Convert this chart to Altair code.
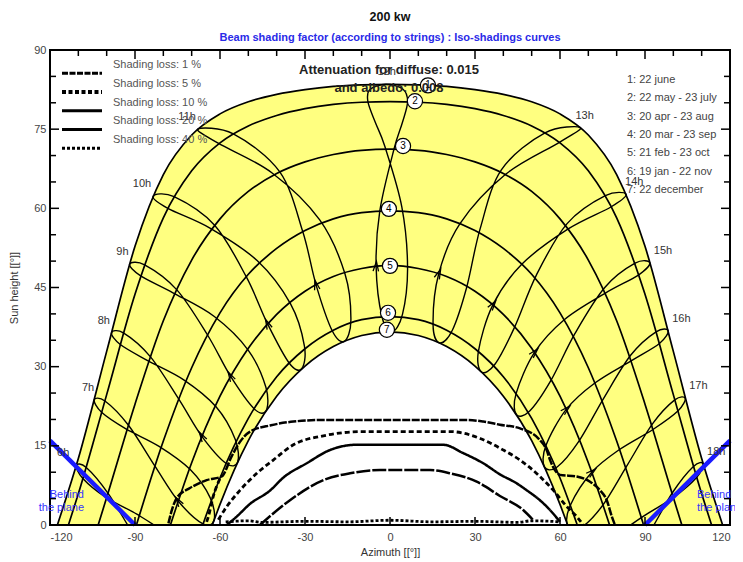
import math
import pandas as pd
import altair as alt

# ---------------- values ----------------
# sun paths (azimuth, height) for the seven dates
d1_az = [-117.4, -110, -100, -90, -80, -70, -60, -50, -40, -30, -20, -10, 0, 10, 20, 30, 40, 50, 60, 70, 80, 90, 100, 110, 117.4]
d1_h = [0, 12.6, 32.9, 52.8, 66.4, 73.9, 77.9, 80.2, 81.6, 82.5, 83.1, 83.4, 83.5, 83.4, 83.1, 82.5, 81.6, 80.2, 77.9, 73.9, 66.4, 52.8, 32.9, 12.6, 0]
d2_az = [-113.5, -110, -100, -90, -80, -70, -60, -50, -40, -30, -20, -10, 0, 10, 20, 30, 40, 50, 60, 70, 80, 90, 100, 110, 113.5]
d2_h = [0, 5.9, 24.7, 43.7, 58.2, 67.1, 72.4, 75.6, 77.6, 78.9, 79.7, 80.1, 80.2, 80.1, 79.7, 78.9, 77.6, 75.6, 72.4, 67.1, 58.2, 43.7, 24.7, 5.9, 0]
d3_az = [-103.0, -100, -90, -80, -70, -60, -50, -40, -30, -20, -10, 0, 10, 20, 30, 40, 50, 60, 70, 80, 90, 100, 103.0]
d3_h = [0, 5.2, 22.9, 38.7, 50.2, 58.0, 63.2, 66.6, 68.8, 70.2, 71.0, 71.2, 71.0, 70.2, 68.8, 66.6, 63.2, 58.0, 50.2, 38.7, 22.9, 5.2, 0]
d4_az = [-89.5, -80, -70, -60, -50, -40, -30, -20, -10, 0, 10, 20, 30, 40, 50, 60, 70, 80, 89.5]
d4_h = [0, 15.9, 29.8, 40.2, 47.5, 52.4, 55.8, 58.0, 59.2, 59.5, 59.2, 58.0, 55.8, 52.4, 47.5, 40.2, 29.8, 15.9, 0]
d5_az = [-77.5, -70, -60, -50, -40, -30, -20, -10, 0, 10, 20, 30, 40, 50, 60, 70, 77.5]
d5_h = [0, 11.8, 24.4, 33.5, 39.9, 44.3, 47.1, 48.6, 49.2, 48.6, 47.1, 44.3, 39.9, 33.5, 24.4, 11.8, 0]
d6_az = [-66.1, -60, -50, -40, -30, -20, -10, 0, 10, 20, 30, 40, 50, 60, 66.1]
d6_h = [0, 8.9, 20.2, 28.1, 33.4, 36.9, 38.9, 39.5, 38.9, 36.9, 33.4, 28.1, 20.2, 8.9, 0]
d7_az = [-62.7, -60, -50, -40, -30, -20, -10, 0, 10, 20, 30, 40, 50, 60, 62.7]
d7_h = [0, 3.9, 16.0, 24.4, 30.1, 33.8, 35.9, 36.6, 35.9, 33.8, 30.1, 24.4, 16.0, 3.9, 0]

# hour loops (legal time), points through the year: 22 dec, 19 jan, 21 feb, 20 mar, 20 apr,
# 22 may, 22 jun, 23 jul, 23 aug, 23 sep, 23 oct, 22 nov (the 12h loop has extra points near its top)
h6_az = [-69.2, -73.1, -82.2, -90.5, -99.5, -107.2, -110.7, -108.4, -100.5, -89.2, -78.3, -70.9]
h6_h = [-11.0, -12.0, -8.2, -1.8, 6.0, 10.9, 11.3, 8.8, 5.3, 2.0, -2.0, -6.9]
h7_az = [-62.1, -66.0, -74.7, -82.9, -92.3, -100.6, -104.4, -101.7, -93.2, -81.5, -70.5, -63.4]
h7_h = [0.9, 0.2, 4.5, 11.1, 18.9, 23.5, 23.7, 21.3, 18.2, 14.9, 10.5, 5.1]
h8_az = [-53.8, -57.9, -66.4, -74.6, -84.6, -94.1, -98.3, -95.2, -85.7, -72.8, -61.4, -54.6]
h8_h = [11.9, 11.7, 16.8, 23.9, 31.9, 36.4, 36.4, 34.2, 31.2, 27.5, 22.4, 16.2]
h9_az = [-43.7, -47.9, -56.3, -64.4, -75.3, -86.6, -91.9, -88.0, -76.6, -62.0, -50.0, -43.8]
h9_h = [21.7, 22.0, 28.2, 36.0, 44.6, 49.3, 49.4, 47.2, 44.0, 39.5, 33.1, 26.1]
h10_az = [-31.2, -35.6, -43.2, -50.7, -61.9, -76.2, -83.6, -78.4, -63.7, -46.9, -35.1, -30.2]
h10_h = [29.6, 30.7, 38.1, 47.0, 56.8, 62.2, 62.3, 60.0, 56.3, 50.1, 41.9, 33.9]
h11_az = [-16.1, -20.4, -26.1, -30.8, -38.9, -55.3, -67.8, -60.5, -41.6, -24.8, -15.9, -13.8]
h11_h = [34.8, 36.8, 45.5, 55.6, 66.9, 74.1, 75.0, 72.3, 66.7, 57.8, 47.6, 38.8]
h12_az = [0.7, -2.8, -4.9, -3.6, 1.4, 4.4, 6.2, 4.5, -1.5, -7.1, -7.8, -5.2, -1.8, 4.2, 6.2, 4.4]
h12_h = [36.6, 39.4, 49.0, 59.5, 71.2, 76.3, 80.2, 82.6, 83.5, 82.5, 80.2, 76.3, 71.7, 60.2, 48.7, 39.9]
h13_az = [17.5, 15.2, 17.2, 24.7, 40.7, 59.8, 67.2, 54.7, 39.3, 31.8, 27.0, 22.0]
h13_h = [34.5, 38.0, 47.6, 57.1, 66.4, 72.5, 75.3, 74.3, 67.3, 56.1, 44.9, 36.9]
h14_az = [32.3, 31.2, 36.3, 46.5, 62.9, 78.1, 83.3, 76.0, 62.5, 51.7, 43.9, 37.1]
h14_h = [29.0, 32.9, 41.7, 49.4, 56.1, 60.3, 62.7, 62.4, 57.1, 47.4, 37.4, 30.5]
h15_az = [44.6, 44.5, 51.0, 61.5, 75.9, 87.8, 91.7, 86.5, 75.8, 65.3, 56.7, 49.3]
h15_h = [20.9, 24.9, 32.7, 38.9, 43.9, 47.4, 49.7, 49.6, 45.0, 36.3, 27.3, 21.6]
h16_az = [54.5, 55.0, 62.2, 72.3, 85.1, 95.1, 98.2, 93.9, 85.0, 75.4, 66.7, 59.0]
h16_h = [11.0, 15.0, 21.9, 26.9, 31.1, 34.4, 36.8, 36.6, 32.2, 24.0, 15.9, 11.0]
h17_az = [62.7, 63.7, 71.2, 81.0, 92.8, 101.6, 104.2, 100.5, 92.7, 83.7, 74.9, 67.1]
h17_h = [-0.1, 3.8, 10.0, 14.3, 18.1, 21.6, 24.0, 23.7, 19.2, 11.3, 3.6, -0.6]
h18_az = [69.7, 71.0, 79.0, 88.7, 100.0, 108.2, 110.5, 107.1, 99.9, 91.3, 82.3, 74.1]
h18_h = [-12.0, -8.2, -2.6, 1.4, 5.2, 9.0, 11.6, 11.1, 6.3, -1.7, -9.1, -12.8]
june_index = [6, 6, 6, 6, 6, 6, 8, 6, 6, 6, 6, 6, 6]  # position of 22 june in each loop
arrow_index = 2                                      # direction arrows sit at 21 feb

# iso-shading curves
iso1_az = [-78.2, -77.0, -75.3, -70.6, -64.7, -59.4, -55.9, -52.9, -49.4, -42.0, -34.1, -23.5, 0, 27.1, 32.9, 38.8,
           45.9, 52.9, 55.3, 56.5, 58.2, 60.0, 65.9, 70.6, 74.1, 76.5, 78.3, 79.4]
iso1_h = [0.3, 2.8, 5.1, 7.0, 8.5, 9.2, 13.0, 15.8, 17.7, 18.9, 19.6, 19.9, 19.9, 19.9, 19.6, 19.0,
          18.3, 16.1, 14.2, 12.3, 10.4, 9.5, 9.2, 8.2, 6.6, 4.7, 1.6, 0.0]
iso5_az = [-60.6, -57.6, -52.9, -47.0, -41.2, -34.1, -23.5, -9.4, 21.2, 31.8, 40.0, 45.9, 52.9, 57.6, 62.4, 65.9, 68.2]
iso5_h = [1.0, 3.5, 6.6, 9.8, 12.3, 15.2, 16.9, 17.7, 17.7, 16.4, 14.2, 12.3, 9.2, 6.6, 3.5, 1.6, 0.0]
iso5b_az = [-64.7, -64.1, -62.4, -60.0]
iso5b_h = [0.6, 1.6, 5.4, 8.8]
iso10_az = [-57.6, -54.1, -49.4, -42.4, -37.6, -29.4, -21.2, -11.8, 18.8, 25.9, 32.9, 38.8, 44.7, 48.2, 52.9, 55.3, 60.0]
iso10_h = [0.0, 1.6, 4.0, 6.5, 9.0, 11.7, 14.2, 15.2, 15.2, 13.6, 11.7, 9.6, 7.9, 6.6, 4.7, 3.5, 0.6]
iso20_az = [-45.9, -35.3, -23.5, -14.1, -3.5, 14.1, 21.2, 30.6, 38.8, 47.1, 50.6]
iso20_h = [0.0, 4.7, 8.5, 9.8, 10.4, 10.4, 9.8, 8.2, 5.5, 2.8, 0.9]
iso40_az = [-58, -50, -45, -30, -15, 0, 15, 30, 45, 50, 60]
iso40_h = [0.6, 0.8, 0.5, 0.7, 0.6, 0.9, 0.6, 0.7, 0.5, 0.8, 0.6]

# plane limits
blue_az = [-120, -90, 90, 120]
blue_h = [16, 0, 0, 16]
blue_side = ["L", "L", "R", "R"]

# date markers
circ_lab = ["1", "2", "3", "4", "5", "6", "7"]
circ_az = [13.4, 8.8, 4.6, -0.4, 0.0, -0.7, -1.1]
circ_h = [83.3, 80.3, 71.8, 59.9, 49.1, 40.2, 37.0]

date_legend = ["1: 22 june", "2: 22 may - 23 july", "3: 20 apr - 23 aug", "4: 20 mar - 23 sep",
               "5: 21 feb - 23 oct", "6: 19 jan - 22 nov", "7: 22 december"]
iso_legend = ["Shading loss: 1 %", "Shading loss: 5 %", "Shading loss: 10 %",
              "Shading loss: 20 %", "Shading loss: 40 %"]

x_labels = [-120, -90, -60, -30, 0, 30, 60, 90, 120]
y_labels = [0, 15, 30, 45, 60, 75, 90]
top_major = [-90, -60, -30, 0, 30, 60, 90]
top_minor = [-110, -100, -80, -70, -50, -40, -20, -10, 10, 20, 40, 50, 70, 80, 100, 110]
side_major = [15, 30, 45, 60, 75]
side_minor = [5, 10, 20, 25, 35, 40, 50, 55, 65, 70, 80, 85]

# ---------------- tables ----------------
W, H = 680, 475
PX_X, PX_Y = W / 240.0, H / 90.0
date_curves = [(d1_az, d1_h), (d2_az, d2_h), (d3_az, d3_h), (d4_az, d4_h), (d5_az, d5_h), (d6_az, d6_h), (d7_az, d7_h)]
dates_df = pd.DataFrame([{"curve": k + 1, "az": a, "h": h} for k, (A, Hh) in enumerate(date_curves) for a, h in zip(A, Hh)])
loops = [(h6_az, h6_h), (h7_az, h7_h), (h8_az, h8_h), (h9_az, h9_h), (h10_az, h10_h), (h11_az, h11_h), (h12_az, h12_h),
         (h13_az, h13_h), (h14_az, h14_h), (h15_az, h15_h), (h16_az, h16_h), (h17_az, h17_h), (h18_az, h18_h)]
hours = list(range(6, 19))
hours_df = pd.DataFrame([{"hour": t, "i": i, "az": a, "h": h}
                         for t, (A, Hh) in zip(hours, loops) for i, (a, h) in enumerate(zip(A, Hh))])
arrow_rows = []
for A, Hh in loops:
    j = arrow_index
    if Hh[j] > 1:
        dxp = (A[j + 1] - A[j]) * PX_X
        dyp = -(Hh[j + 1] - Hh[j]) * PX_Y
        arrow_rows.append({"az": A[j], "h": Hh[j], "ang": math.degrees(math.atan2(dxp, -dyp)) % 360})
arrows_df = pd.DataFrame(arrow_rows)

FONT = "Liberation Sans"
xs = alt.Scale(domain=[-120, 120], nice=False, zero=False)
ys = alt.Scale(domain=[0, 90], nice=False, zero=False)
X_AX = alt.Axis(values=x_labels, title="Azimuth [[°]]", ticks=False, domain=False, grid=False,
                labelPadding=6, titlePadding=4, labelExpr="'' + datum.value")
Y_AX = alt.Axis(values=y_labels, title="Sun height [[°]]", ticks=False, domain=False, grid=False,
                labelPadding=4, titlePadding=14, labelExpr="'' + datum.value")

def X(f):
    return alt.X(f, type="quantitative", scale=xs, axis=X_AX)

def Y(f):
    return alt.Y(f, type="quantitative", scale=ys, axis=Y_AX)

def txt(s, x, y, size=11, color="#333", weight="normal", align="left"):
    return alt.Chart(pd.DataFrame({"t": [s]})).mark_text(
        align=align, baseline="middle", fontSize=size, color=color, fontWeight=weight, font=FONT
    ).encode(x=alt.value(x), y=alt.value(y), text="t:N")

layers = []
layers.append(alt.Chart(pd.DataFrame({"az": d1_az, "h": d1_h})).mark_area(color="#ffff80", interpolate="monotone")
              .encode(x=X("az"), y=Y("h")))
layers.append(alt.Chart(pd.DataFrame({"az": d7_az, "h": d7_h})).mark_area(color="white", interpolate="monotone")
              .encode(x=X("az"), y=Y("h")))
layers.append(alt.Chart(hours_df).mark_line(color="black", strokeWidth=1.4, interpolate="cardinal-closed", clip=True)
              .encode(x=X("az"), y=Y("h"), detail="hour:N", order="i:Q"))
layers.append(alt.Chart(dates_df).mark_line(color="black", strokeWidth=1.7, interpolate="monotone", clip=True)
              .encode(x=X("az"), y=Y("h"), detail="curve:N"))
layers.append(alt.Chart(arrows_df).mark_point(shape="M-0.5,0.9L0,-0.9L0.5,0.9", filled=False, size=120,
                                               stroke="black", strokeWidth=1.3, opacity=1)
              .encode(x=X("az"), y=Y("h"), angle=alt.Angle("ang:Q", scale=None)))

iso_sets = [(iso1_az, iso1_h, [8, 1.5], 2.5), (iso5_az, iso5_h, [5, 3], 2.8), (iso5b_az, iso5b_h, [5, 3], 2.8),
            (iso10_az, iso10_h, [1, 0], 2.5), (iso20_az, iso20_h, [14, 2], 2.5), (iso40_az, iso40_h, [3, 2], 2.8)]
for az, h, dash, w in iso_sets:
    layers.append(alt.Chart(pd.DataFrame({"az": az, "h": h}))
                  .mark_line(color="black", strokeWidth=w, strokeDash=dash, interpolate="monotone", clip=True)
                  .encode(x=X("az"), y=Y("h")))

layers.append(alt.Chart(pd.DataFrame({"az": blue_az, "h": blue_h, "side": blue_side}))
              .mark_line(color="#1a1aff", strokeWidth=4.5).encode(x=X("az"), y=Y("h"), detail="side:N"))

# hour labels at the 22 june end of each loop
label_dx = {6: -7, 7: 0, 8: -1.5, 9: -1, 10: -2, 11: -2, 12: 1, 13: -5, 14: -1, 15: 4, 16: 4, 17: 4, 18: 4}
for t, (A, Hh), j in zip(hours, loops, june_index):
    al = "right" if t < 12 else ("center" if t == 12 else "left")
    layers.append(alt.Chart(pd.DataFrame({"lab": ["%dh" % t], "az": [A[j]], "h": [Hh[j]]}))
                  .mark_text(align=al, baseline="middle", dx=label_dx[t], dy=-12, fontSize=11, color="#333", font=FONT)
                  .encode(x=X("az"), y=Y("h"), text="lab:N"))

cdf = pd.DataFrame({"lab": circ_lab, "az": circ_az, "h": circ_h})
layers.append(alt.Chart(cdf).mark_point(shape="circle", size=230, fill="white", fillOpacity=1, stroke="black",
                                         strokeWidth=1.2, opacity=1).encode(x=X("az"), y=Y("h")))
layers.append(alt.Chart(cdf).mark_text(fontSize=10, color="black", font=FONT).encode(x=X("az"), y=Y("h"), text="lab:N"))

def tick_layer(vals, orient, length):
    m = alt.Chart(pd.DataFrame({"v": vals})).mark_rule(color="black", strokeWidth=1.5)
    if orient == "top":
        return m.encode(x=X("v"), y=alt.value(0), y2=alt.value(length))
    if orient == "bottom":
        return m.encode(x=X("v"), y=alt.value(H - length), y2=alt.value(H))
    if orient == "left":
        return m.encode(y=Y("v"), x=alt.value(0), x2=alt.value(length))
    return m.encode(y=Y("v"), x=alt.value(W - length), x2=alt.value(W))

layers += [tick_layer(top_major, "top", 9), tick_layer(top_minor, "top", 6),
           tick_layer(side_major, "left", 9), tick_layer(side_minor, "left", 6),
           tick_layer(side_major, "right", 9), tick_layer(side_minor, "right", 6),
           tick_layer(top_major, "bottom", 8)]

layers.append(alt.Chart(pd.DataFrame({"a": [0]})).mark_rect(fill=None, stroke="black", strokeWidth=2)
              .encode(x=alt.value(0), x2=alt.value(W), y=alt.value(0), y2=alt.value(H)))

layers.append(txt("200 kw", 340, -33, size=12.5, color="#111", weight="bold", align="center"))
layers.append(txt("Beam shading factor (according to strings) : Iso-shadings curves", 340, -12, size=11,
                  color="#2a2ae8", weight="bold", align="center"))
layers.append(txt("Attenuation  for  diffuse:  0.015", 339, 20, size=13, color="#222", weight="bold", align="center"))
layers.append(txt("and  albedo:  0.008", 339, 38, size=13, color="#222", weight="bold", align="center"))
leg_dash = [[6, 1.5], [4, 2.5], [1, 0], [1, 0], [3, 2]]
leg_w = [3, 4, 3, 3, 3]
for i, s in enumerate(iso_legend):
    layers.append(txt(s, 63, 15 + 18.75 * i, size=11, color="#555"))
    layers.append(alt.Chart(pd.DataFrame({"a": [0]})).mark_rule(color="black", strokeWidth=leg_w[i], strokeDash=leg_dash[i])
                  .encode(x=alt.value(12), x2=alt.value(52), y=alt.value(23.3 + 18.75 * i)))
for i, s in enumerate(date_legend):
    layers.append(txt(s, 577, 30 + 18.3 * i, size=11, color="#444"))
for s, y in [("Behind", 445), ("the plane", 458)]:
    layers.append(txt(s, 34, y, size=11, color="#3535ff", align="right"))
    layers.append(txt(s, 647, y, size=11, color="#3535ff", align="left"))

chart = alt.layer(*layers).properties(
    width=W, height=H,
    padding={"left": 42, "top": 42, "right": 5, "bottom": 37},
    autosize=alt.AutoSizeParams(type="none"),
).configure_view(stroke=None).configure_axis(
    labelFont=FONT, titleFont=FONT, labelFontSize=11, titleFontSize=11,
    labelColor="#444", titleColor="#333", titleFontWeight="normal")

chart.save("out.html", embed_options={"renderer": "svg", "actions": False})
